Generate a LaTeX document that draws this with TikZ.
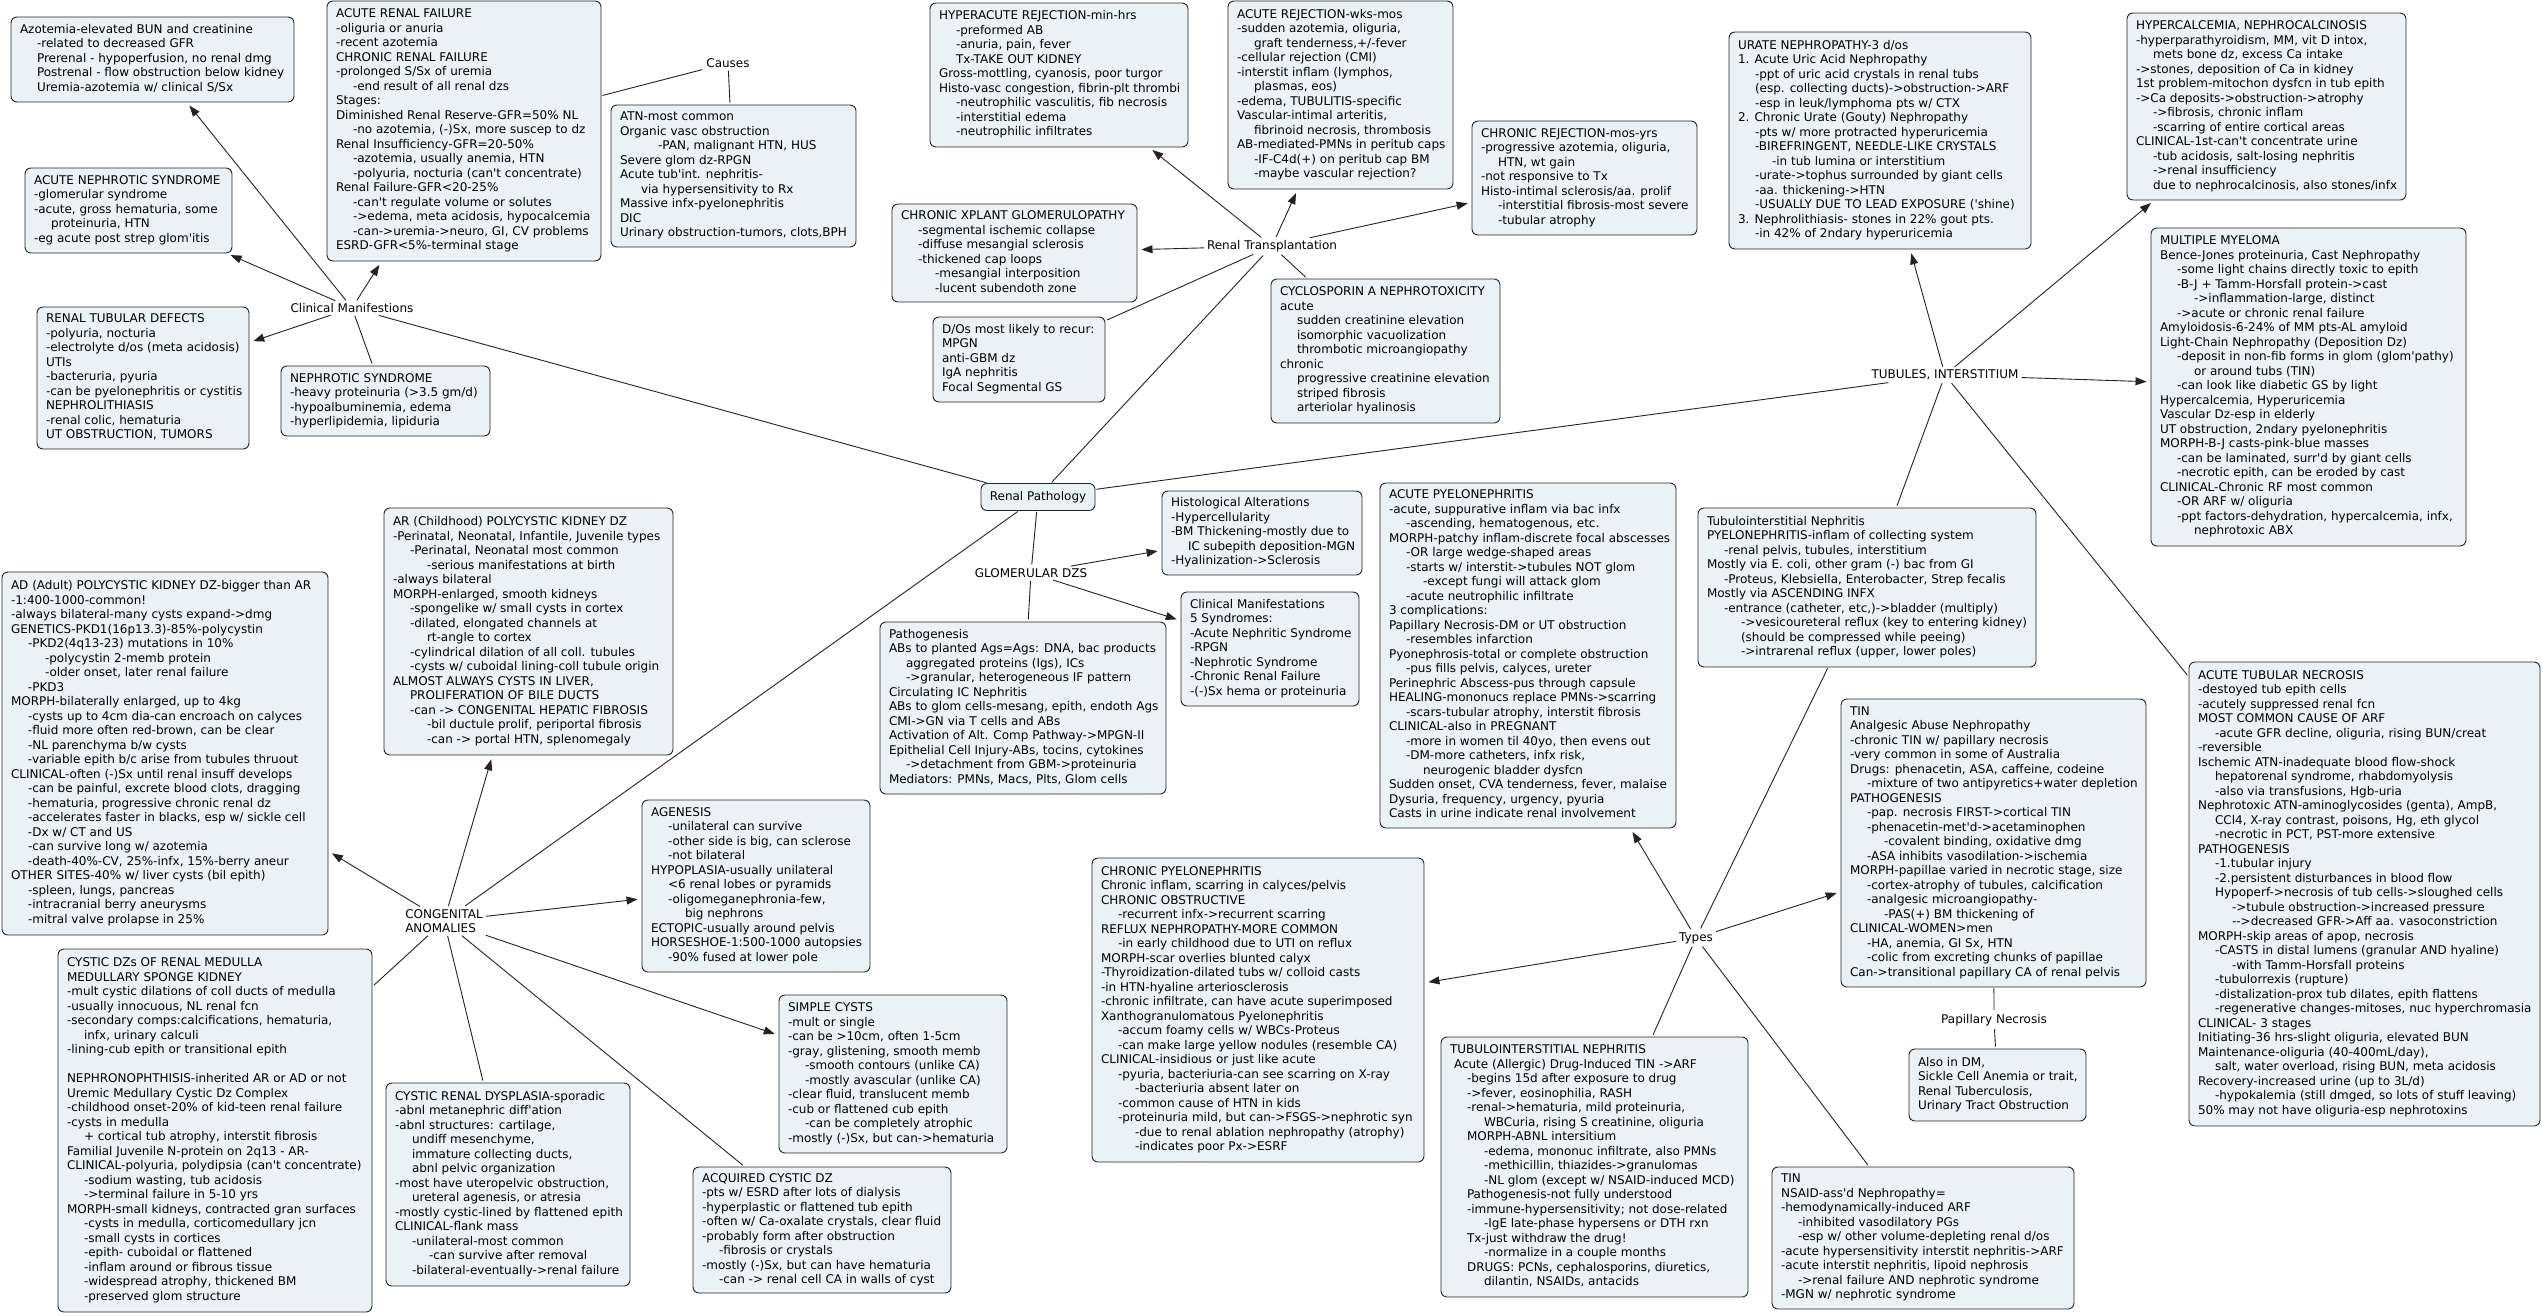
\documentclass[tikz,border=0pt]{standalone}
\usepackage{fontspec}
\newfontfamily\dv{DejaVu Sans}
\usetikzlibrary{arrows.meta}
\definecolor{boxfill}{RGB}{235,242,245}
\definecolor{edgec}{RGB}{35,35,35}
\newcommand\Ia{\hspace*{17pt}}
\newcommand\Ib{\hspace*{34pt}}
\newcommand\Ic{\hspace*{51pt}}
\newcommand\bx[6]{%
  \pgfmathsetlengthmacro\bxw{(#4-#2-18)*1pt}%
  \node[box, minimum width={(#4-#2)*1pt}, minimum height={(#5-#3)*1pt}] (#1) at ({(#2+#4)/2},{(#3+#5)/2})
   {\makebox[\bxw][l]{\begin{tabular}{@{}l@{}}#6\end{tabular}}};}
\begin{document}
\begin{tikzpicture}[x=1pt,y=-1pt,
  font=\dv\fontsize{12}{14.5}\selectfont,
  box/.style={draw=edgec, fill=boxfill, rounded corners=6pt, line width=0.9pt, inner xsep=9pt, inner ysep=0pt},
  lbl/.style={inner sep=2pt},
  conn/.style={draw=edgec, line width=0.9pt, shorten <=1pt, shorten >=2pt},
  arr/.style={conn, -{Triangle[length=11pt,width=8pt]}, shorten >=4pt}]
\fill[white] (0,0) rectangle (2542,1315);
\useasboundingbox (0,0) rectangle (2542,1315);

% ---------- labels ----------
\node[lbl] (cm) at (352,308) {Clinical Manifestions};
\node[lbl] (causes) at (728,63) {Causes};
\node[lbl] (rt) at (1272,246) {Renal Transplantation};
\node[lbl] (tub) at (1945,375) {TUBULES, INTERSTITIUM};
\node[box, inner xsep=4pt, minimum width=114pt, minimum height=27pt] (rp) at (1038,497) {Renal Pathology};
\node[lbl] (glom) at (1031,573) {GLOMERULAR DZS};
\node[lbl, align=left] (cong) at (444,921) {CONGENITAL\\ANOMALIES};
\node[lbl] (types) at (1696,938) {Types};
\node[lbl] (papn) at (1994,1020) {Papillary Necrosis};

% ---------- boxes ----------
\bx{azot}{11}{17}{294}{102}{Azotemia-elevated BUN and creatinine\\
\Ia -related to decreased GFR\\
\Ia Prerenal - hypoperfusion, no renal dmg\\
\Ia Postrenal - flow obstruction below kidney\\
\Ia Uremia-azotemia w/ clinical S/Sx}

\bx{arf}{327}{1}{601}{261}{ACUTE RENAL FAILURE\\
-oliguria or anuria\\
-recent azotemia\\
CHRONIC RENAL FAILURE\\
-prolonged S/Sx of uremia\\
\Ia -end result of all renal dzs\\
Stages:\\
Diminished Renal Reserve-GFR=50\% NL\\
\Ia -no azotemia, (-)Sx, more suscep to dz\\
Renal Insufficiency-GFR=20-50\%\\
\Ia -azotemia, usually anemia, HTN\\
\Ia -polyuria, nocturia (can't concentrate)\\
Renal Failure-GFR<20-25\%\\
\Ia -can't regulate volume or solutes\\
\Ia ->edema, meta acidosis, hypocalcemia\\
\Ia -can->uremia->neuro, GI, CV problems\\
ESRD-GFR<5\%-terminal stage}

\bx{atnc}{611}{105}{856}{247}{ATN-most common\\
Organic vasc obstruction\\
\hspace*{38pt}-PAN, malignant HTN, HUS\\
Severe glom dz-RPGN\\
Acute tub'int. nephritis-\\
\hspace*{21pt}via hypersensitivity to Rx\\
Massive infx-pyelonephritis\\
DIC\\
Urinary obstruction-tumors, clots,BPH}

\bx{ans}{25}{168}{232}{253}{ACUTE NEPHROTIC SYNDROME\\
-glomerular syndrome\\
-acute, gross hematuria, some\\
\Ia proteinuria, HTN\\
-eg acute post strep glom'itis}

\bx{rtd}{37}{307}{249}{449}{RENAL TUBULAR DEFECTS\\
-polyuria, nocturia\\
-electrolyte d/os (meta acidosis)\\
UTIs\\
-bacteruria, pyuria\\
-can be pyelonephritis or cystitis\\
NEPHROLITHIASIS\\
-renal colic, hematuria\\
UT OBSTRUCTION, TUMORS}

\bx{nephs}{281}{366}{490}{436}{NEPHROTIC SYNDROME\\
-heavy proteinuria (>3.5 gm/d)\\
-hypoalbuminemia, edema\\
-hyperlipidemia, lipiduria}

\bx{hyper}{930}{3}{1188}{147}{HYPERACUTE REJECTION-min-hrs\\
\Ia -preformed AB\\
\Ia -anuria, pain, fever\\
\Ia Tx-TAKE OUT KIDNEY\\
Gross-mottling, cyanosis, poor turgor\\
Histo-vasc congestion, fibrin-plt thrombi\\
\Ia -neutrophilic vasculitis, fib necrosis\\
\Ia -interstitial edema\\
\Ia -neutrophilic infiltrates}

\bx{acrej}{1228}{1}{1453}{189}{ACUTE REJECTION-wks-mos\\
-sudden azotemia, oliguria,\\
\Ia graft tenderness,+/-fever\\
-cellular rejection (CMI)\\
-interstit inflam (lymphos,\\
\Ia plasmas, eos)\\
-edema, TUBULITIS-specific\\
Vascular-intimal arteritis,\\
\Ia fibrinoid necrosis, thrombosis\\
AB-mediated-PMNs in peritub caps\\
\Ia -IF-C4d(+) on peritub cap BM\\
\Ia -maybe vascular rejection?}

\bx{cxg}{892}{204}{1137}{302}{CHRONIC XPLANT GLOMERULOPATHY\\
\Ia -segmental ischemic collapse\\
\Ia -diffuse mesangial sclerosis\\
\Ia -thickened cap loops\\
\Ib -mesangial interposition\\
\Ib -lucent subendoth zone}

\bx{dos}{933}{317}{1105}{402}{D/Os most likely to recur:\\
MPGN\\
anti-GBM dz\\
IgA nephritis\\
Focal Segmental GS}

\bx{cyc}{1271}{279}{1500}{423}{CYCLOSPORIN A NEPHROTOXICITY\\
acute\\
\Ia sudden creatinine elevation\\
\Ia isomorphic vacuolization\\
\Ia thrombotic microangiopathy\\
chronic\\
\Ia progressive creatinine elevation\\
\Ia striped fibrosis\\
\Ia arteriolar hyalinosis}

\bx{chrej}{1472}{121}{1697}{235}{CHRONIC REJECTION-mos-yrs\\
-progressive azotemia, oliguria,\\
\Ia HTN, wt gain\\
-not responsive to Tx\\
Histo-intimal sclerosis/aa. prolif\\
\Ia -interstitial fibrosis-most severe\\
\Ia -tubular atrophy}

\bx{urate}{1729}{32}{2031}{249}{URATE NEPHROPATHY-3 d/os\\
1. Acute Uric Acid Nephropathy\\
\Ia -ppt of uric acid crystals in renal tubs\\
\Ia (esp. collecting ducts)->obstruction->ARF\\
\Ia -esp in leuk/lymphoma pts w/ CTX\\
2. Chronic Urate (Gouty) Nephropathy\\
\Ia -pts w/ more protracted hyperuricemia\\
\Ia -BIREFRINGENT, NEEDLE-LIKE CRYSTALS\\
\Ib -in tub lumina or interstitium\\
\Ia -urate->tophus surrounded by giant cells\\
\Ia -aa. thickening->HTN\\
\Ia -USUALLY DUE TO LEAD EXPOSURE ('shine)\\
3. Nephrolithiasis- stones in 22\% gout pts.\\
\Ia -in 42\% of 2ndary hyperuricemia}

\bx{hcal}{2127}{13}{2406}{200}{HYPERCALCEMIA, NEPHROCALCINOSIS\\
-hyperparathyroidism, MM, vit D intox,\\
\Ia mets bone dz, excess Ca intake\\
->stones, deposition of Ca in kidney\\
1st problem-mitochon dysfcn in tub epith\\
->Ca deposits->obstruction->atrophy\\
\Ia ->fibrosis, chronic inflam\\
\Ia -scarring of entire cortical areas\\
CLINICAL-1st-can't concentrate urine\\
\Ia -tub acidosis, salt-losing nephritis\\
\Ia ->renal insufficiency\\
\Ia due to nephrocalcinosis, also stones/infx}

\bx{mm}{2151}{228}{2466}{546}{MULTIPLE MYELOMA\\
Bence-Jones proteinuria, Cast Nephropathy\\
\Ia -some light chains directly toxic to epith\\
\Ia -B-J + Tamm-Horsfall protein->cast\\
\Ib ->inflammation-large, distinct\\
\Ia ->acute or chronic renal failure\\
Amyloidosis-6-24\% of MM pts-AL amyloid\\
Light-Chain Nephropathy (Deposition Dz)\\
\Ia -deposit in non-fib forms in glom (glom'pathy)\\
\Ib or around tubs (TIN)\\
\Ia -can look like diabetic GS by light\\
Hypercalcemia, Hyperuricemia\\
Vascular Dz-esp in elderly\\
UT obstruction, 2ndary pyelonephritis\\
MORPH-B-J casts-pink-blue masses\\
\Ia -can be laminated, surr'd by giant cells\\
\Ia -necrotic epith, can be eroded by cast\\
CLINICAL-Chronic RF most common\\
\Ia -OR ARF w/ oliguria\\
\Ia -ppt factors-dehydration, hypercalcemia, infx,\\
\Ib nephrotoxic ABX}

\bx{tinp}{1698}{508}{2036}{667}{Tubulointerstitial Nephritis\\
PYELONEPHRITIS-inflam of collecting system\\
\Ia -renal pelvis, tubules, interstitium\\
Mostly via E. coli, other gram (-) bac from GI\\
\Ia -Proteus, Klebsiella, Enterobacter, Strep fecalis\\
Mostly via ASCENDING INFX\\
\Ia -entrance (catheter, etc,)->bladder (multiply)\\
\Ib ->vesicoureteral reflux (key to entering kidney)\\
\Ib (should be compressed while peeing)\\
\Ib ->intrarenal reflux (upper, lower poles)}

\bx{atn}{2189}{662}{2540}{1126}{ACUTE TUBULAR NECROSIS\\
-destoyed tub epith cells\\
-acutely suppressed renal fcn\\
MOST COMMON CAUSE OF ARF\\
\Ia -acute GFR decline, oliguria, rising BUN/creat\\
-reversible\\
Ischemic ATN-inadequate blood flow-shock\\
\Ia hepatorenal syndrome, rhabdomyolysis\\
\Ia -also via transfusions, Hgb-uria\\
Nephrotoxic ATN-aminoglycosides (genta), AmpB,\\
\Ia CCl4, X-ray contrast, poisons, Hg, eth glycol\\
\Ia -necrotic in PCT, PST-more extensive\\
PATHOGENESIS\\
\Ia -1.tubular injury\\
\Ia -2.persistent disturbances in blood flow\\
\Ia Hypoperf->necrosis of tub cells->sloughed cells\\
\Ib ->tubule obstruction->increased pressure\\
\Ib -->decreased GFR->Aff aa. vasoconstriction\\
MORPH-skip areas of apop, necrosis\\
\Ia -CASTS in distal lumens (granular AND hyaline)\\
\Ib -with Tamm-Horsfall proteins\\
\Ia -tubulorrexis (rupture)\\
\Ia -distalization-prox tub dilates, epith flattens\\
\Ia -regenerative changes-mitoses, nuc hyperchromasia\\
CLINICAL- 3 stages\\
Initiating-36 hrs-slight oliguria, elevated BUN\\
Maintenance-oliguria (40-400mL/day),\\
\Ia salt, water overload, rising BUN, meta acidosis\\
Recovery-increased urine (up to 3L/d)\\
\Ia -hypokalemia (still dmged, so lots of stuff leaving)\\
50\% may not have oliguria-esp nephrotoxins}

\bx{hist}{1162}{491}{1362}{575}{Histological Alterations\\
-Hypercellularity\\
-BM Thickening-mostly due to\\
\Ia IC subepith deposition-MGN\\
-Hyalinization->Sclerosis}

\bx{clin}{1181}{592}{1359}{706}{Clinical Manifestations\\
5 Syndromes:\\
-Acute Nephritic Syndrome\\
-RPGN\\
-Nephrotic Syndrome\\
-Chronic Renal Failure\\
-(-)Sx hema or proteinuria}

\bx{path}{880}{622}{1166}{794}{Pathogenesis\\
ABs to planted Ags=Ags: DNA, bac products\\
\Ia aggregated proteins (Igs), ICs\\
\Ia ->granular, heterogeneous IF pattern\\
Circulating IC Nephritis\\
ABs to glom cells-mesang, epith, endoth Ags\\
CMI->GN via T cells and ABs\\
Activation of Alt. Comp Pathway->MPGN-II\\
Epithelial Cell Injury-ABs, tocins, cytokines\\
\Ia ->detachment from GBM->proteinuria\\
Mediators: PMNs, Macs, Plts, Glom cells}

\bx{apyelo}{1380}{483}{1676}{828}{ACUTE PYELONEPHRITIS\\
-acute, suppurative inflam via bac infx\\
\Ia -ascending, hematogenous, etc.\\
MORPH-patchy inflam-discrete focal abscesses\\
\Ia -OR large wedge-shaped areas\\
\Ia -starts w/ interstit->tubules NOT glom\\
\Ib -except fungi will attack glom\\
\Ia -acute neutrophilic infiltrate\\
3 complications:\\
Papillary Necrosis-DM or UT obstruction\\
\Ia -resembles infarction\\
Pyonephrosis-total or complete obstruction\\
\Ia -pus fills pelvis, calyces, ureter\\
Perinephric Abscess-pus through capsule\\
HEALING-mononucs replace PMNs->scarring\\
\Ia -scars-tubular atrophy, interstit fibrosis\\
CLINICAL-also in PREGNANT\\
\Ia -more in women til 40yo, then evens out\\
\Ia -DM-more catheters, infx risk,\\
\Ib neurogenic bladder dysfcn\\
Sudden onset, CVA tenderness, fever, malaise\\
Dysuria, frequency, urgency, pyuria\\
Casts in urine indicate renal involvement}

\bx{arpk}{384}{508}{673}{755}{AR (Childhood) POLYCYSTIC KIDNEY DZ\\
-Perinatal, Neonatal, Infantile, Juvenile types\\
\Ia -Perinatal, Neonatal most common\\
\Ib -serious manifestations at birth\\
-always bilateral\\
MORPH-enlarged, smooth kidneys\\
\Ia -spongelike w/ small cysts in cortex\\
\Ia -dilated, elongated channels at\\
\Ib rt-angle to cortex\\
\Ia -cylindrical dilation of all coll. tubules\\
\Ia -cysts w/ cuboidal lining-coll tubule origin\\
ALMOST ALWAYS CYSTS IN LIVER,\\
\Ia PROLIFERATION OF BILE DUCTS\\
\Ia -can -> CONGENITAL HEPATIC FIBROSIS\\
\Ib -bil ductule prolif, periportal fibrosis\\
\Ib -can -> portal HTN, splenomegaly}

\bx{adpk}{2}{572}{328}{935}{AD (Adult) POLYCYSTIC KIDNEY DZ-bigger than AR\\
-1:400-1000-common!\\
-always bilateral-many cysts expand->dmg\\
GENETICS-PKD1(16p13.3)-85\%-polycystin\\
\Ia -PKD2(4q13-23) mutations in 10\%\\
\Ib -polycystin 2-memb protein\\
\Ib -older onset, later renal failure\\
\Ia -PKD3\\
MORPH-bilaterally enlarged, up to 4kg\\
\Ia -cysts up to 4cm dia-can encroach on calyces\\
\Ia -fluid more often red-brown, can be clear\\
\Ia -NL parenchyma b/w cysts\\
\Ia -variable epith b/c arise from tubules thruout\\
CLINICAL-often (-)Sx until renal insuff develops\\
\Ia -can be painful, excrete blood clots, dragging\\
\Ia -hematuria, progressive chronic renal dz\\
\Ia -accelerates faster in blacks, esp w/ sickle cell\\
\Ia -Dx w/ CT and US\\
\Ia -can survive long w/ azotemia\\
\Ia -death-40\%-CV, 25\%-infx, 15\%-berry aneur\\
OTHER SITES-40\% w/ liver cysts (bil epith)\\
\Ia -spleen, lungs, pancreas\\
\Ia -intracranial berry aneurysms\\
\Ia -mitral valve prolapse in 25\%}

\bx{agen}{642}{800}{870}{972}{AGENESIS\\
\Ia -unilateral can survive\\
\Ia -other side is big, can sclerose\\
\Ia -not bilateral\\
HYPOPLASIA-usually unilateral\\
\Ia <6 renal lobes or pyramids\\
\Ia -oligomeganephronia-few,\\
\Ib big nephrons\\
ECTOPIC-usually around pelvis\\
HORSESHOE-1:500-1000 autopsies\\
\Ia -90\% fused at lower pole}

\bx{cmed}{58}{949}{372}{1312}{CYSTIC DZs OF RENAL MEDULLA\\
MEDULLARY SPONGE KIDNEY\\
-mult cystic dilations of coll ducts of medulla\\
-usually innocuous, NL renal fcn\\
-secondary comps:calcifications, hematuria,\\
\Ia infx, urinary calculi\\
-lining-cub epith or transitional epith\\
\\
NEPHRONOPHTHISIS-inherited AR or AD or not\\
Uremic Medullary Cystic Dz Complex\\
-childhood onset-20\% of kid-teen renal failure\\
-cysts in medulla\\
\Ia + cortical tub atrophy, interstit fibrosis\\
Familial Juvenile N-protein on 2q13 - AR-\\
CLINICAL-polyuria, polydipsia (can't concentrate)\\
\Ia -sodium wasting, tub acidosis\\
\Ia ->terminal failure in 5-10 yrs\\
MORPH-small kidneys, contracted gran surfaces\\
\Ia -cysts in medulla, corticomedullary jcn\\
\Ia -small cysts in cortices\\
\Ia -epith- cuboidal or flattened\\
\Ia -inflam around or fibrous tissue\\
\Ia -widespread atrophy, thickened BM\\
\Ia -preserved glom structure}

\bx{dysp}{386}{1083}{630}{1286}{CYSTIC RENAL DYSPLASIA-sporadic\\
-abnl metanephric diff'ation\\
-abnl structures: cartilage,\\
\Ia undiff mesenchyme,\\
\Ia immature collecting ducts,\\
\Ia abnl pelvic organization\\
-most have uteropelvic obstruction,\\
\Ia ureteral agenesis, or atresia\\
-mostly cystic-lined by flattened epith\\
CLINICAL-flank mass\\
\Ia -unilateral-most common\\
\Ib -can survive after removal\\
\Ia -bilateral-eventually->renal failure}

\bx{simp}{779}{995}{1007}{1153}{SIMPLE CYSTS\\
-mult or single\\
-can be >10cm, often 1-5cm\\
-gray, glistening, smooth memb\\
\Ia -smooth contours (unlike CA)\\
\Ia -mostly avascular (unlike CA)\\
-clear fluid, translucent memb\\
-cub or flattened cub epith\\
\Ia -can be completely atrophic\\
-mostly (-)Sx, but can->hematuria}

\bx{acq}{693}{1167}{951}{1293}{ACQUIRED CYSTIC DZ\\
-pts w/ ESRD after lots of dialysis\\
-hyperplastic or flattened tub epith\\
-often w/ Ca-oxalate crystals, clear fluid\\
-probably form after obstruction\\
\Ia -fibrosis or crystals\\
-mostly (-)Sx, but can have hematuria\\
\Ia -can -> renal cell CA in walls of cyst}

\bx{cpyelo}{1092}{858}{1424}{1162}{CHRONIC PYELONEPHRITIS\\
Chronic inflam, scarring in calyces/pelvis\\
CHRONIC OBSTRUCTIVE\\
\Ia -recurrent infx->recurrent scarring\\
REFLUX NEPHROPATHY-MORE COMMON\\
\Ia -in early childhood due to UTI on reflux\\
MORPH-scar overlies blunted calyx\\
-Thyroidization-dilated tubs w/ colloid casts\\
-in HTN-hyaline arteriosclerosis\\
-chronic infiltrate, can have acute superimposed\\
Xanthogranulomatous Pyelonephritis\\
\Ia -accum foamy cells w/ WBCs-Proteus\\
\Ia -can make large yellow nodules (resemble CA)\\
CLINICAL-insidious or just like acute\\
\Ia -pyuria, bacteriuria-can see scarring on X-ray\\
\Ib -bacteriuria absent later on\\
\Ia -common cause of HTN in kids\\
\Ia -proteinuria mild, but can->FSGS->nephrotic syn\\
\Ib -due to renal ablation nephropathy (atrophy)\\
\Ib -indicates poor Px->ESRF}

\bx{tina}{1841}{699}{2146}{987}{TIN\\
Analgesic Abuse Nephropathy\\
-chronic TIN w/ papillary necrosis\\
-very common in some of Australia\\
Drugs: phenacetin, ASA, caffeine, codeine\\
\Ia -mixture of two antipyretics+water depletion\\
PATHOGENESIS\\
\Ia -pap. necrosis FIRST->cortical TIN\\
\Ia -phenacetin-met'd->acetaminophen\\
\Ib -covalent binding, oxidative dmg\\
\Ia -ASA inhibits vasodilation->ischemia\\
MORPH-papillae varied in necrotic stage, size\\
\Ia -cortex-atrophy of tubules, calcification\\
\Ia -analgesic microangiopathy-\\
\Ib -PAS(+) BM thickening of\\
CLINICAL-WOMEN>men\\
\Ia -HA, anemia, GI Sx, HTN\\
\Ia -colic from excreting chunks of papillae\\
Can->transitional papillary CA of renal pelvis}

\bx{also}{1909}{1049}{2086}{1121}{Also in DM,\\
Sickle Cell Anemia or trait,\\
Renal Tuberculosis,\\
Urinary Tract Obstruction}

\bx{tind}{1441}{1037}{1748}{1297}{TUBULOINTERSTITIAL NEPHRITIS\\
\hspace*{4pt}Acute (Allergic) Drug-Induced TIN ->ARF\\
\Ia -begins 15d after exposure to drug\\
\Ia ->fever, eosinophilia, RASH\\
\Ia -renal->hematuria, mild proteinuria,\\
\Ib WBCuria, rising S creatinine, oliguria\\
\Ia MORPH-ABNL intersitium\\
\Ib -edema, mononuc infiltrate, also PMNs\\
\Ib -methicillin, thiazides->granulomas\\
\Ib -NL glom (except w/ NSAID-induced MCD)\\
\Ia Pathogenesis-not fully understood\\
\Ia -immune-hypersensitivity; not dose-related\\
\Ib -IgE late-phase hypersens or DTH rxn\\
\Ia Tx-just withdraw the drug!\\
\Ib -normalize in a couple months\\
\Ia DRUGS: PCNs, cephalosporins, diuretics,\\
\Ib dilantin, NSAIDs, antacids}

\bx{tinn}{1772}{1167}{2074}{1309}{TIN\\
NSAID-ass'd Nephropathy=\\
-hemodynamically-induced ARF\\
\Ia -inhibited vasodilatory PGs\\
\Ia -esp w/ other volume-depleting renal d/os\\
-acute hypersensitivity interstit nephritis->ARF\\
-acute interstit nephritis, lipoid nephrosis\\
\Ia ->renal failure AND nephrotic syndrome\\
-MGN w/ nephrotic syndrome}

% ---------- connectors ----------
\draw[arr] (cm) -- (azot);
\draw[arr] (cm) -- (ans);
\draw[arr] (cm) -- (arf);
\draw[arr] (cm) -- (rtd);
\draw[conn] (cm) -- (nephs);
\draw[conn] (rp) -- (cm);
\draw[conn] (arf) -- (causes);
\draw[conn] (causes) -- (atnc);

\draw[conn] (rp) -- (rt);
\draw[arr] (rt) -- (hyper);
\draw[arr] (rt) -- (acrej);
\draw[arr] (rt) -- (cxg);
\draw[arr] (rt) -- (chrej);
\draw[conn] (rt) -- (dos);
\draw[conn] (rt) -- (cyc);

\draw[conn] (rp) -- (tub);
\draw[arr] (tub) -- (urate);
\draw[arr] (tub) -- (hcal);
\draw[arr] (tub) -- (mm);
\draw[conn] (tub) -- (tinp);
\draw[conn] (tub) -- (atn);

\draw[conn] (tinp) -- (types);
\draw[arr] (types) -- (apyelo);
\draw[arr] (types) -- (cpyelo);
\draw[arr] (types) -- (tina);
\draw[conn] (types) -- (tind);
\draw[conn] (types) -- (tinn);
\draw[conn] (tina) -- (papn);
\draw[conn] (papn) -- (also);

\draw[conn] (rp) -- (glom);
\draw[arr] (glom) -- (hist);
\draw[arr] (glom) -- (clin);
\draw[conn] (glom) -- (path);

\draw[conn] (rp) -- (cong);
\draw[arr] (cong) -- (adpk);
\draw[arr] (cong) -- (arpk);
\draw[arr] (cong) -- (agen);
\draw[arr] (cong) -- (simp);
\draw[conn] (cong) -- (cmed);
\draw[conn] (cong) -- (dysp);
\draw[conn] (cong) -- (acq);
\end{tikzpicture}
\end{document}
